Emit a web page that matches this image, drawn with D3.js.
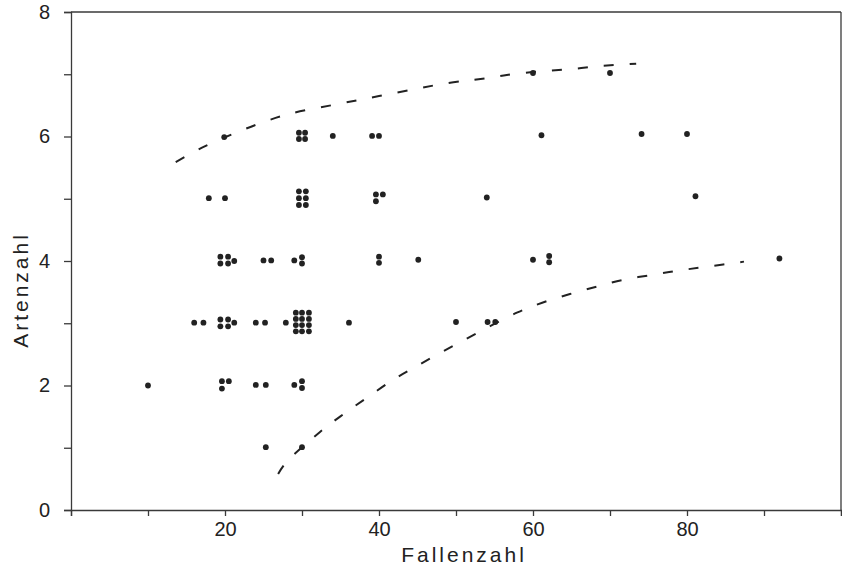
<!DOCTYPE html>
<html>
<head>
<meta charset="utf-8">
<script src="https://cdn.jsdelivr.net/npm/d3@7"></script>
<style>
  html, body { margin: 0; padding: 0; background: #fff; }
  svg { display: block; }
  text { font-family: "Liberation Sans", Arial, Helvetica, sans-serif; fill: #222; }
</style>
</head>
<body>
<svg id="chart" width="842" height="568"></svg>
<script>
// ---- Data ----
const xTicks = [0, 10, 20, 30, 40, 50, 60, 70, 80, 90, 100];
const xTickLabels = [20, 40, 60, 80];
const yTicks = [0, 1, 2, 3, 4, 5, 6, 7, 8];
const yTickLabels = [0, 2, 4, 6, 8];

// Each point: [Fallenzahl, Artenzahl] as plotted (coincident points shown as small clusters)
const points = [
  // Artenzahl 7
  [60.0, 7.02], [70.0, 7.02],
  // Artenzahl 6
  [19.9, 5.99], [29.6, 6.06], [30.4, 6.06], [29.6, 5.96], [30.4, 5.96],
  [34.0, 6.01], [39.1, 6.01], [40.0, 6.01], [61.1, 6.02], [74.1, 6.04], [80.0, 6.04],
  // Artenzahl 5
  [17.9, 5.01], [20.0, 5.01],
  [29.6, 5.12], [30.5, 5.12], [29.6, 5.01], [30.5, 5.01], [29.6, 4.90], [30.5, 4.90],
  [39.6, 5.07], [40.5, 5.07], [39.6, 4.96], [54.0, 5.02], [81.1, 5.04],
  // Artenzahl 4
  [19.4, 4.07], [20.4, 4.07], [19.4, 3.96], [20.4, 3.96], [21.2, 4.00],
  [25.0, 4.01], [26.0, 4.01], [29.0, 4.01], [30.0, 4.06], [30.0, 3.96],
  [40.0, 4.07], [40.0, 3.97], [45.1, 4.02], [60.0, 4.02], [62.1, 4.08], [62.1, 3.98],
  [92.0, 4.04],
  // Artenzahl 3
  [16.0, 3.01], [17.2, 3.01],
  [19.4, 3.06], [20.4, 3.06], [19.4, 2.95], [20.4, 2.95], [21.2, 3.01],
  [24.0, 3.01], [25.2, 3.01], [27.9, 3.01],
  [29.2, 3.17], [30.0, 3.17], [30.9, 3.17],
  [29.2, 3.07], [30.0, 3.07], [30.9, 3.07],
  [29.2, 2.97], [30.0, 2.97], [30.9, 2.97],
  [29.2, 2.87], [30.0, 2.87], [30.9, 2.87],
  [36.1, 3.01], [50.0, 3.02], [54.1, 3.02], [55.1, 3.02],
  // Artenzahl 2
  [10.0, 2.00], [19.6, 2.07], [20.5, 2.07], [19.6, 1.95],
  [24.0, 2.01], [25.3, 2.01], [29.0, 2.01], [30.0, 2.07], [30.0, 1.96],
  // Artenzahl 1
  [25.3, 1.01], [30.0, 1.01]
];

// Dashed envelope curves
const upperBound = [
  [13.6, 5.59], [17.5, 5.85], [22.2, 6.10], [25.4, 6.25], [28.6, 6.37],
  [35.0, 6.53], [40.0, 6.65], [45.0, 6.77], [49.0, 6.86], [52.3, 6.91],
  [55.2, 6.96], [57.9, 7.01], [62.3, 7.06], [65.5, 7.09], [68.3, 7.13],
  [70.9, 7.15], [73.4, 7.17]
];
const lowerBound = [
  [26.9, 0.58], [27.9, 0.76], [32.3, 1.25], [35.5, 1.55], [38.4, 1.80],
  [41.8, 2.09], [44.6, 2.29], [47.6, 2.50], [51.2, 2.74], [57.9, 3.17],
  [61.2, 3.33], [64.8, 3.47], [68.3, 3.59], [71.8, 3.70], [75.6, 3.78],
  [79.1, 3.85], [82.7, 3.91], [87.4, 3.99]
];

const xTitle = "Fallenzahl";
const yTitle = "Artenzahl";

// ---- Layout ----
const svg = d3.select("#chart");
const mLeft = 71, mRight = 841, mTop = 12, mBottom = 510;

const x = d3.scaleLinear().domain([0, 100]).range([mLeft, mRight]);
const y = d3.scaleLinear().domain([0, 8]).range([mBottom, mTop]);

const axisColor = "#3a3a3a";

// Frame (top and right)
svg.append("line").attr("x1", mLeft).attr("x2", mRight).attr("y1", mTop).attr("y2", mTop)
  .attr("stroke", axisColor).attr("stroke-width", 1.3);
svg.append("line").attr("x1", mRight).attr("x2", mRight).attr("y1", mTop).attr("y2", mBottom)
  .attr("stroke", axisColor).attr("stroke-width", 1.3);

// X axis
const gx = svg.append("g").attr("transform", `translate(0,${mBottom})`)
  .call(d3.axisBottom(x).tickValues(xTicks).tickSizeOuter(0).tickSize(6).tickPadding(6)
    .tickFormat(d => xTickLabels.includes(d) ? d : ""));
// Y axis
const gy = svg.append("g").attr("transform", `translate(${mLeft},0)`)
  .call(d3.axisLeft(y).tickValues(yTicks).tickSizeOuter(0).tickSize(7).tickPadding(14)
    .tickFormat(d => yTickLabels.includes(d) ? d : ""));

[gx, gy].forEach(g => {
  g.select(".domain").attr("stroke", axisColor).attr("stroke-width", 1.3);
  g.selectAll(".tick line").attr("stroke", axisColor).attr("stroke-width", 1.3);
  g.selectAll(".tick text").attr("fill", "#222")
    .style("font-family", '"Liberation Sans", Arial, sans-serif').style("font-size", "20px");
});

// Titles
svg.append("text").attr("x", 464).attr("y", 562).attr("text-anchor", "middle")
  .style("font-size", "21px").style("letter-spacing", "3px").text(xTitle);
svg.append("text").attr("transform", "translate(28,290) rotate(-90)").attr("text-anchor", "middle")
  .style("font-size", "21px").style("letter-spacing", "3px").text(yTitle);

// Dashed curves
const line = d3.line().x(d => x(d[0])).y(d => y(d[1])).curve(d3.curveCatmullRom.alpha(0.5));
[upperBound, lowerBound].forEach(data => {
  svg.append("path").datum(data).attr("d", line)
    .attr("fill", "none").attr("stroke", "#222").attr("stroke-width", 2)
    .attr("stroke-dasharray", "10,16");
});

// Points
svg.append("g").selectAll("circle").data(points).join("circle")
  .attr("cx", d => x(d[0])).attr("cy", d => y(d[1])).attr("r", 2.9).attr("fill", "#222");
</script>
</body>
</html>
